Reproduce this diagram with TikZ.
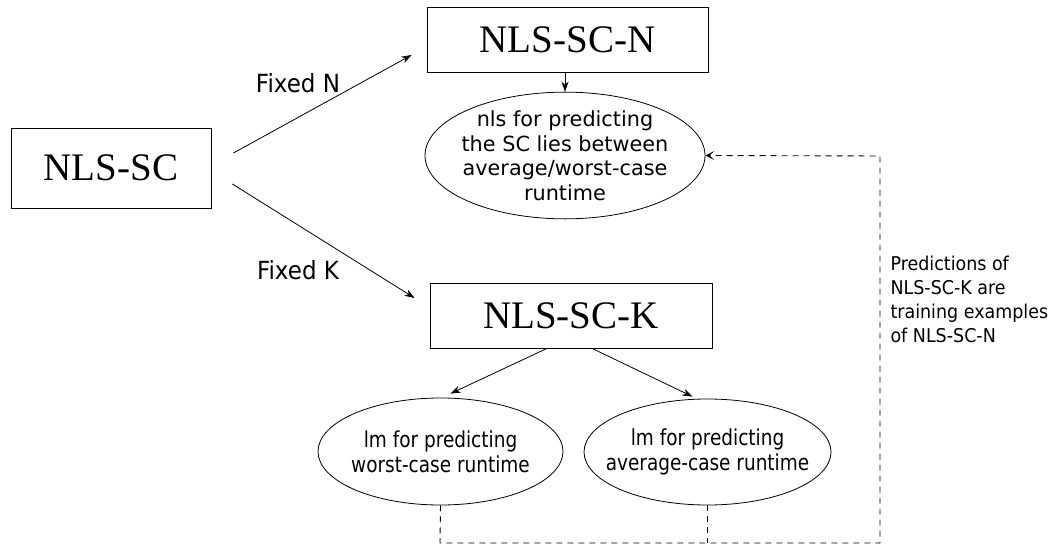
\documentclass[tikz,border=0pt]{standalone}
\usepackage{fontspec}
\setmainfont{DejaVu Sans}
\newfontfamily\boxfont{Liberation Serif}
\newfontfamily\narrowfont[FakeStretch=0.84]{DejaVu Sans}
\newfontfamily\labelfont[FakeStretch=0.92]{DejaVu Sans}
\usetikzlibrary{arrows.meta}
\usetikzlibrary{shapes.geometric}
\usetikzlibrary{positioning}

\begin{document}
\begin{tikzpicture}[x=1pt, y=-1pt,
    modelbox/.style={draw=black, line width=0.8pt, inner sep=0pt, font=\boxfont\fontsize{39}{44}\selectfont},
    fitoval/.style={ellipse, draw=black, line width=0.8pt, inner xsep=-40pt, inner ysep=0pt, align=center},
    arr/.style={-{Stealth[length=10pt, width=7pt, inset=3pt]}, line width=0.8pt},
    dasharr/.style={line width=0.9pt, dash pattern=on 6pt off 5pt}]
\useasboundingbox (0,0) rectangle (1052,548);
% boxes
\node[modelbox, minimum width=200pt, minimum height=80pt] (sc) at (111,168) {NLS-SC};
\node[modelbox, minimum width=281pt, minimum height=65pt] (scn) at (567.5,39.5) {NLS-SC-N};
\node[modelbox, minimum width=282pt, minimum height=65pt] (sck) at (571,315.5) {NLS-SC-K};
% fitted models
\node[fitoval, minimum width=280pt, minimum height=123pt, font=\fontsize{20.8}{24.5}\selectfont] (nls) at (565,155.5) {nls for predicting\\the SC lies between\\average/worst-case\\runtime};
\node[fitoval, minimum width=245pt, minimum height=107pt, font=\narrowfont\fontsize{22}{25}\selectfont] (lmw) at (440.5,451.5) {lm for predicting\\worst-case runtime};
\node[fitoval, minimum width=247pt, minimum height=106pt, font=\narrowfont\fontsize{22}{25}\selectfont] (lma) at (707.5,452) {lm for predicting\\average-case runtime};
% labels
\node[font=\labelfont\fontsize{25}{28}\selectfont] (fixn) at (298,83) {Fixed N};
\node[font=\labelfont\fontsize{25}{28}\selectfont] (fixk) at (298,270) {Fixed K};
\node[anchor=west, align=left, font=\labelfont\fontsize{19}{24}\selectfont] (pred) at (887,299) {Predictions of\\NLS-SC-K are\\training examples\\of NLS-SC-N};
% arrows
\draw[arr] ([shift={(22,-15)}]sc.east) -- ([shift={(-15,15.5)}]scn.west);
\draw[arr] ([shift={(21,16)}]sc.east) -- ([shift={(-15,-17.5)}]sck.west);
\draw[arr] (scn.south -| nls.north) -- (nls.north);
\draw[arr] ([xshift=-24pt]sck.south) -- ([shift={(10,-4)}]lmw.north);
\draw[arr] ([xshift=21pt]sck.south) -- ([shift={(-15,-2)}]lma.north);
% feedback
\coordinate (bl) at (440,543);
\coordinate (br) at (880,543);
\coordinate (tr) at (880,156);
\draw[dasharr] (lma.south) -- (lma.south |- bl);
\draw[dasharr, -{Stealth[length=9pt, width=9pt, inset=5pt, open]}] (lmw.south) -- (bl) -- (br) -- (tr) -- (nls.east);
\end{tikzpicture}
\end{document}
